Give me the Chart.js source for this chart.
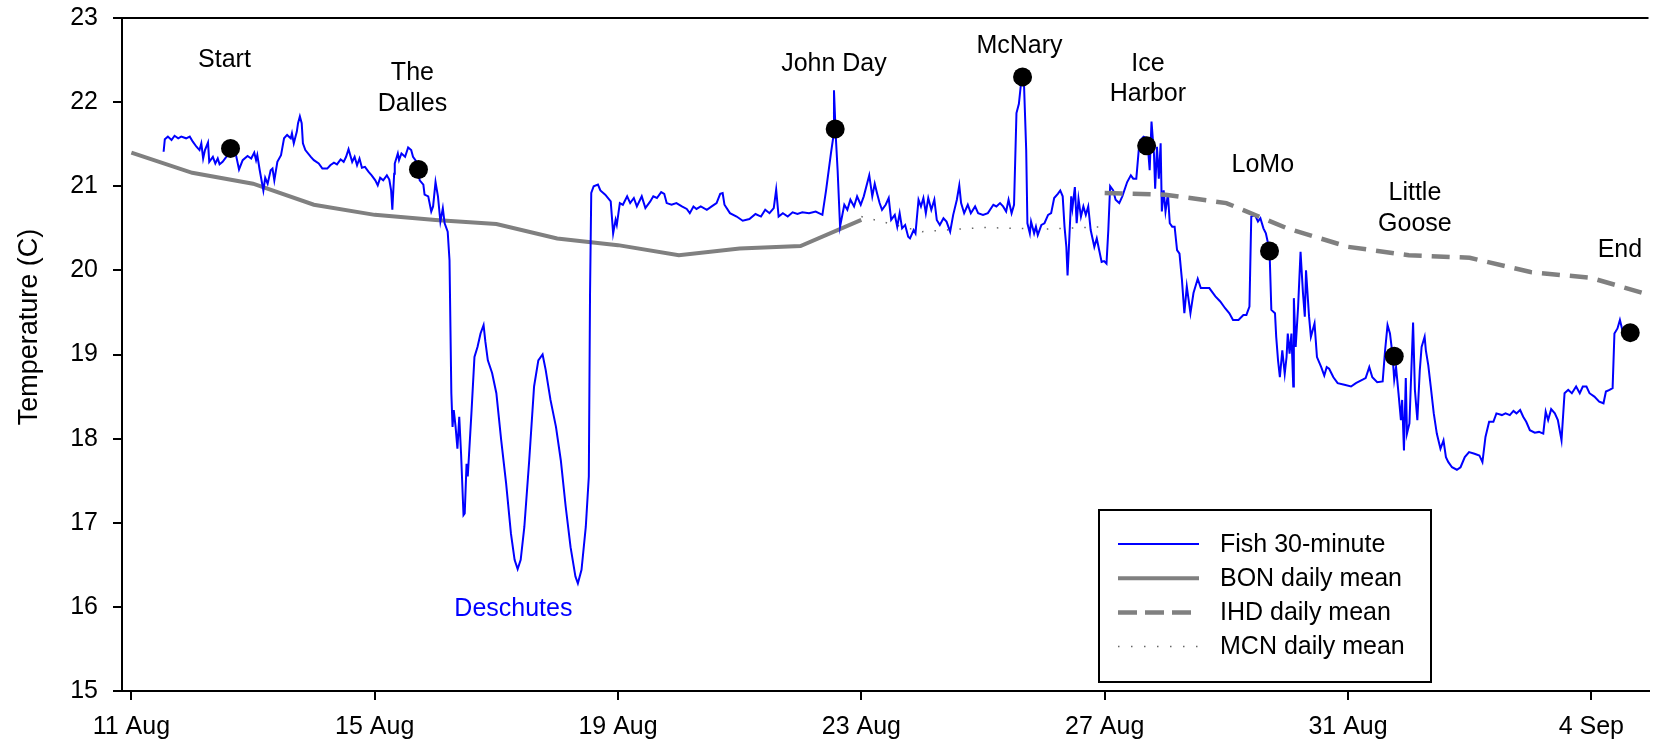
<!DOCTYPE html>
<html>
<head>
<meta charset="utf-8">
<title>Fish temperature</title>
<script src="https://cdn.jsdelivr.net/npm/chart.js@4.4.1/dist/chart.umd.min.js"></script>
<style>
  html, body { margin: 0; padding: 0; background: #fff; }
  #wrap { width: 1658px; height: 748px; }
</style>
</head>
<body>
<div id="wrap"><canvas id="chart" width="1658" height="748"></canvas></div>
<script>
// x values are days after 11 Aug 00:00
var xTickDays = [0, 4, 8, 12, 16, 20, 24];
var xTickLabels = ['11 Aug', '15 Aug', '19 Aug', '23 Aug', '27 Aug', '31 Aug', '4 Sep'];
var xMin = -0.154, xMax = 24.94;
var yTicks = [15, 16, 17, 18, 19, 20, 21, 22, 23];

// fish tag, 30-minute readings
var fishDay = [0.53,0.55,0.60,0.66,0.71,0.77,0.82,0.90,0.96,1.01,1.07,1.12,1.15,1.18,1.21,1.26,1.28,1.34,1.38,1.42,1.45,1.50,1.56,1.64,1.72,1.77,1.83,1.91,1.97,2.02,2.05,2.07,2.11,2.17,2.20,2.24,2.29,2.32,2.35,2.40,2.46,2.51,2.56,2.62,2.64,2.67,2.72,2.74,2.77,2.80,2.82,2.86,2.95,3.00,3.08,3.14,3.22,3.27,3.33,3.38,3.44,3.49,3.53,3.57,3.63,3.67,3.71,3.75,3.79,3.84,3.90,3.95,4.01,4.05,4.09,4.14,4.20,4.24,4.27,4.29,4.32,4.33,4.38,4.40,4.44,4.50,4.55,4.60,4.63,4.69,
  4.74,4.80,4.82,4.88,4.93,4.96,5.00,5.04,5.08,5.12,5.15,5.20,5.23,5.26,5.28,5.30,5.33,5.36,5.39,5.42,5.46,5.48,5.51,5.53,5.59,5.64,5.69,5.74,5.79,5.82,5.86,5.93,6.00,6.08,6.16,6.24,6.30,6.35,6.40,6.46,6.54,6.62,6.69,6.76,6.81,6.89,6.98,7.06,7.14,7.22,7.30,7.34,7.40,7.47,7.52,7.54,7.56,7.60,7.67,7.71,7.79,7.88,7.92,7.96,7.98,8.03,8.08,8.15,8.20,8.26,8.31,8.39,8.45,8.53,8.58,8.64,8.71,8.76,8.80,8.88,8.96,9.05,9.13,9.18,9.24,9.29,9.36,9.46,9.54,9.62,9.68,9.72,9.75,9.84,9.95,10.05,10.16,10.26,10.35,10.42,10.49,10.56,10.60,10.64,10.71,10.79,10.87,10.95,11.03,11.14,11.25,11.36,11.42,11.50,11.54,11.55,11.58,11.61,11.65,11.72,11.77,11.82,11.88,11.93,11.99,12.04,
  12.13,12.18,12.22,12.26,12.30,12.34,12.40,12.45,12.49,12.55,12.59,12.63,12.67,12.72,12.77,12.80,12.86,12.89,12.94,12.98,13.02,13.06,13.10,13.15,13.20,13.24,13.29,13.35,13.40,13.46,13.51,13.57,13.61,13.64,13.69,13.75,13.80,13.87,13.92,14.00,14.08,14.17,14.22,14.28,14.33,14.38,14.42,14.47,14.51,14.55,14.59,14.63,14.67,14.71,14.73,14.77,14.79,14.84,14.87,14.90,14.96,15.01,15.07,15.12,15.17,15.23,15.27,15.31,15.34,15.37,15.39,15.42,15.45,15.47,15.51,15.54,15.57,15.61,15.65,15.69,15.73,15.77,15.83,15.87,15.91,15.95,15.99,16.03,16.06,16.09,16.14,16.18,16.24,16.29,16.37,16.43,16.47,16.52,16.56,16.59,16.64,16.70,16.74,16.77,16.81,16.83,16.86,16.89,16.92,16.94,16.97,17.00,17.04,17.07,17.11,17.15,17.19,17.23,17.27,17.31,17.35,17.41,17.46,17.53,17.58,17.65,17.72,17.82,17.90,17.98,18.05,18.11,18.20,18.28,18.33,18.38,18.41,18.47,18.52,18.56,18.61,18.65,18.71,18.74,18.80,18.82,18.85,18.88,18.92,18.96,18.99,19.01,19.04,19.07,19.10,19.11,19.14,19.18,19.22,19.26,19.29,19.31,19.36,19.39,19.45,19.49,19.56,19.61,19.65,19.69,19.76,19.83,19.94,20.05,20.13,20.24,20.29,20.35,20.40,20.48,20.57,
  20.61,20.65,20.69,20.73,20.76,20.79,20.83,20.87,20.89,20.92,20.95,20.97,21.01,21.07,21.10,21.14,21.18,21.21,21.26,21.28,21.32,21.36,21.41,21.46,21.52,21.57,21.61,21.65,21.71,21.79,21.85,21.92,21.99,22.08,22.16,22.21,22.26,22.32,22.39,22.44,22.53,22.59,22.66,22.72,22.77,22.83,22.88,22.93,22.99,23.07,23.14,23.21,23.25,23.29,23.34,23.40,23.45,23.51,23.56,23.62,23.68,23.75,23.81,23.86,23.92,23.97,24.05,24.13,24.20,24.24,24.30,24.35,24.38,24.43,24.47,24.51,24.57,24.62];
var fishTemp = [21.41,21.56,21.59,21.55,21.60,21.57,21.59,21.57,21.59,21.53,21.47,21.43,21.51,21.33,21.43,21.52,21.29,21.35,21.27,21.33,21.26,21.29,21.35,21.40,21.37,21.20,21.31,21.36,21.33,21.40,21.31,21.37,21.19,20.95,21.10,21.03,21.19,21.21,21.07,21.29,21.37,21.57,21.61,21.57,21.63,21.51,21.65,21.75,21.83,21.75,21.51,21.43,21.35,21.31,21.27,21.21,21.21,21.25,21.28,21.26,21.32,21.29,21.35,21.44,21.29,21.35,21.25,21.33,21.22,21.23,21.17,21.13,21.07,21.01,21.10,21.07,21.13,21.08,20.95,20.72,21.15,21.27,21.39,21.31,21.39,21.35,21.46,21.43,21.35,21.29,
  21.07,21.02,20.90,20.88,20.70,20.76,21.05,20.88,20.58,20.74,20.56,20.46,20.12,18.54,18.14,18.34,18.14,17.88,18.26,17.82,17.09,17.11,17.70,17.55,18.30,18.97,19.09,19.25,19.35,19.15,18.93,18.78,18.54,17.98,17.47,16.87,16.56,16.45,16.56,16.95,17.74,18.62,18.93,19.00,18.82,18.46,18.14,17.74,17.19,16.71,16.36,16.28,16.44,16.95,17.55,19.73,20.92,21.00,21.02,20.95,20.90,20.82,20.44,20.60,20.54,20.80,20.78,20.88,20.80,20.86,20.76,20.88,20.74,20.82,20.88,20.86,20.93,20.91,20.80,20.78,20.80,20.76,20.73,20.68,20.76,20.73,20.76,20.72,20.76,20.80,20.91,20.92,20.78,20.68,20.64,20.59,20.61,20.67,20.64,20.72,20.68,20.74,20.96,20.64,20.68,20.64,20.69,20.67,20.69,20.68,20.70,20.66,20.95,21.39,21.59,22.14,21.59,21.19,20.52,20.78,20.72,20.84,20.76,20.88,20.78,20.88,
  21.13,20.88,21.03,20.91,20.80,20.72,20.78,20.86,20.60,20.66,20.52,20.68,20.50,20.54,20.40,20.38,20.48,20.44,20.84,20.76,20.86,20.68,20.86,20.72,20.84,20.60,20.54,20.62,20.58,20.46,20.66,20.84,21.01,20.80,20.68,20.78,20.68,20.76,20.68,20.66,20.68,20.78,20.76,20.80,20.76,20.70,20.84,20.68,20.78,21.87,21.98,22.26,22.30,21.43,20.56,20.44,20.58,20.44,20.52,20.42,20.54,20.56,20.66,20.68,20.86,20.91,20.95,20.88,20.52,20.28,19.94,20.40,20.88,20.74,20.99,20.56,20.85,20.64,20.76,20.66,20.76,20.48,20.28,20.38,20.24,20.10,20.11,20.08,20.48,21.00,20.95,20.84,20.80,20.88,21.05,21.13,21.09,21.09,21.43,21.55,21.59,21.57,21.19,21.77,21.39,20.97,21.47,21.09,21.51,20.70,20.95,20.70,20.91,20.56,20.52,20.52,20.24,20.20,19.89,19.49,19.81,19.49,19.73,19.90,19.79,19.79,19.79,19.69,19.63,19.55,19.49,19.41,19.41,19.47,19.47,19.57,20.64,20.66,20.58,20.62,20.50,20.44,20.24,19.53,19.49,19.21,18.93,18.73,19.05,18.77,18.97,19.25,19.01,19.25,18.62,19.67,19.09,19.57,20.22,19.73,19.45,20.00,19.45,19.21,19.37,18.97,18.85,18.75,18.85,18.83,18.73,18.66,18.64,18.62,18.66,18.70,18.72,18.85,18.73,18.67,18.68,
  19.05,19.35,19.25,19.01,18.70,18.85,18.54,18.22,18.46,17.86,18.72,18.06,18.18,19.38,18.58,18.22,18.81,19.09,19.21,19.05,18.87,18.62,18.30,18.06,17.88,17.98,17.78,17.72,17.66,17.63,17.66,17.78,17.84,17.82,17.80,17.72,18.02,18.20,18.20,18.30,18.28,18.30,18.28,18.33,18.30,18.34,18.26,18.20,18.10,18.07,18.08,18.06,18.32,18.22,18.35,18.30,18.22,17.98,18.54,18.58,18.54,18.62,18.54,18.62,18.62,18.54,18.50,18.44,18.42,18.56,18.58,18.60,19.25,19.31,19.41,19.29,19.31,19.25];

// dam daily means
var bonDay = [0, 1, 2, 3, 4, 5, 6, 7, 8, 9, 10, 11, 12];
var bonTemp = [21.40, 21.16, 21.03, 20.78, 20.66, 20.60, 20.55, 20.38, 20.30, 20.18, 20.26, 20.29, 20.60];
var ihdDay = [16, 17, 18, 19, 20, 21, 22, 23, 24, 25];
var ihdTemp = [20.92, 20.90, 20.80, 20.50, 20.28, 20.18, 20.15, 19.98, 19.91, 19.70];
var mcnDay = [12, 13, 14, 15, 16];
var mcnTemp = [20.64, 20.46, 20.51, 20.49, 20.52];

// passage at each dam
var damDay = [1.63, 4.72, 11.57, 14.65, 16.69, 18.71, 20.76, 24.64];
var damTemp = [21.45, 21.20, 21.68, 22.30, 21.48, 20.23, 18.98, 19.26];

// labels placed in data units
var noteText = ['Start', 'The', 'Dalles', 'John Day', 'McNary', 'Ice', 'Harbor', 'LoMo', 'Little', 'Goose', 'End'];
var noteDay = [1.53, 4.62, 4.62, 11.55, 14.60, 16.71, 16.71, 18.60, 21.10, 21.10, 24.47];
var noteTemp = [22.50, 22.35, 21.98, 22.45, 22.67, 22.45, 22.09, 21.25, 20.92, 20.55, 20.24];
var riverText = 'Deschutes';
var riverDay = 6.28;
var riverTemp = 15.97;

var FONT = "'Liberation Sans', Arial, sans-serif";
Chart.defaults.font.family = FONT;
Chart.defaults.color = '#000';

function pts(xs, ys) {
    return xs.map(function(x, i) { return {x: x, y: ys[i]}; });
}

var extras = {
    id: 'extras',
    afterDatasetsDraw: function(chart) {
        var c = chart.ctx, a = chart.chartArea;
        var xs = chart.scales.x, ys = chart.scales.y;
        c.save();
        // top frame line
        c.strokeStyle = '#000';
        c.lineWidth = 2;
        c.beginPath();
        c.moveTo(a.left - 1, a.top);
        c.lineTo(a.right, a.top);
        c.stroke();

        // dam names
        c.font = '25px ' + FONT;
        c.textAlign = 'center';
        c.textBaseline = 'middle';
        c.fillStyle = '#000';
        for (var i = 0; i < noteText.length; i++) {
            c.fillText(noteText[i], xs.getPixelForValue(noteDay[i]), ys.getPixelForValue(noteTemp[i]));
        }
        c.fillStyle = '#0000ff';
        c.fillText(riverText, xs.getPixelForValue(riverDay), ys.getPixelForValue(riverTemp));

        // y title
        c.fillStyle = '#000';
        c.font = '27px ' + FONT;
        c.translate(30, 327);
        c.rotate(-Math.PI / 2);
        c.fillText('Temperature (C)', 0, 0);
        c.restore();

        // legend box
        var lx = 1099, ly = 510, lw = 332, lh = 172;
        c.save();
        c.fillStyle = '#fff';
        c.fillRect(lx, ly, lw, lh);
        c.strokeStyle = '#000';
        c.lineWidth = 2;
        c.strokeRect(lx, ly, lw, lh);
        var rows = [
            {text: 'Fish 30-minute', color: '#0000ff', width: 2, dash: []},
            {text: 'BON daily mean', color: '#808080', width: 4, dash: []},
            {text: 'IHD daily mean', color: '#808080', width: 4.5, dash: [19, 8]},
            {text: 'MCN daily mean', color: '#666', width: 1.5, dash: [1.5, 11.5]}
        ];
        c.font = '25px ' + FONT;
        c.textAlign = 'left';
        c.textBaseline = 'middle';
        rows.forEach(function(r, k) {
            var y = 544 + k * 34.2;
            c.strokeStyle = r.color;
            c.lineWidth = r.width;
            c.setLineDash(r.dash);
            c.beginPath();
            c.moveTo(1118, y);
            c.lineTo(1199, y);
            c.stroke();
            c.fillStyle = '#000';
            c.fillText(r.text, 1220, y + 1);
        });
        c.restore();
    }
};

var ctx = document.getElementById('chart').getContext('2d');
var chart = new Chart(ctx, {
    type: 'scatter',
    data: {
        datasets: [
            {
                label: 'Dam passage',
                data: pts(damDay, damTemp),
                pointRadius: 9.5,
                pointBackgroundColor: '#000',
                pointBorderColor: '#000',
                pointBorderWidth: 0,
                showLine: false,
                order: 0
            },
            {
                label: 'IHD daily mean',
                data: pts(ihdDay, ihdTemp),
                showLine: true,
                borderColor: '#808080',
                borderWidth: 4.5,
                borderDash: [18, 10],
                pointRadius: 0,
                order: 1
            },
            {
                label: 'Fish 30-minute',
                data: pts(fishDay, fishTemp),
                showLine: true,
                borderColor: '#0000ff',
                borderWidth: 2,
                pointRadius: 0,
                order: 2
            },
            {
                label: 'BON daily mean',
                data: pts(bonDay, bonTemp),
                showLine: true,
                borderColor: '#808080',
                borderWidth: 4,
                pointRadius: 0,
                order: 3
            },
            {
                label: 'MCN daily mean',
                data: pts(mcnDay, mcnTemp),
                showLine: true,
                borderColor: '#666',
                borderWidth: 1.5,
                borderDash: [1.5, 11],
                pointRadius: 0,
                order: 4
            }
        ]
    },
    options: {
        responsive: false,
        animation: false,
        devicePixelRatio: 1,
        layout: { padding: { top: 18, right: 0, bottom: 0, left: 0 } },
        plugins: { legend: { display: false }, tooltip: { enabled: false } },
        scales: {
            x: {
                type: 'linear',
                min: xMin,
                max: xMax,
                afterFit: function(s) { s.height = 57; s.paddingLeft = 0; s.paddingRight = 0; },
                afterBuildTicks: function(s) {
                    s.ticks = xTickDays.map(function(v) { return {value: v}; });
                },
                ticks: {
                    callback: function(v, i) { return xTickLabels[i]; },
                    font: { size: 25 },
                    padding: 12,
                    maxRotation: 0,
                    autoSkip: false
                },
                grid: { drawOnChartArea: false, tickLength: 9, color: '#000', lineWidth: 2 },
                border: { color: '#000', width: 2 }
            },
            y: {
                min: yTicks[0],
                max: yTicks[yTicks.length - 1],
                afterFit: function(s) { s.width = 122; s.paddingTop = 0; s.paddingBottom = 0; },
                afterBuildTicks: function(s) {
                    s.ticks = yTicks.map(function(v) { return {value: v}; });
                },
                ticks: { font: { size: 25 }, padding: 15 },
                grid: { drawOnChartArea: false, tickLength: 9, color: '#000', lineWidth: 2 },
                border: { color: '#000', width: 2 }
            }
        }
    },
    plugins: [extras]
});
</script>
</body>
</html>
